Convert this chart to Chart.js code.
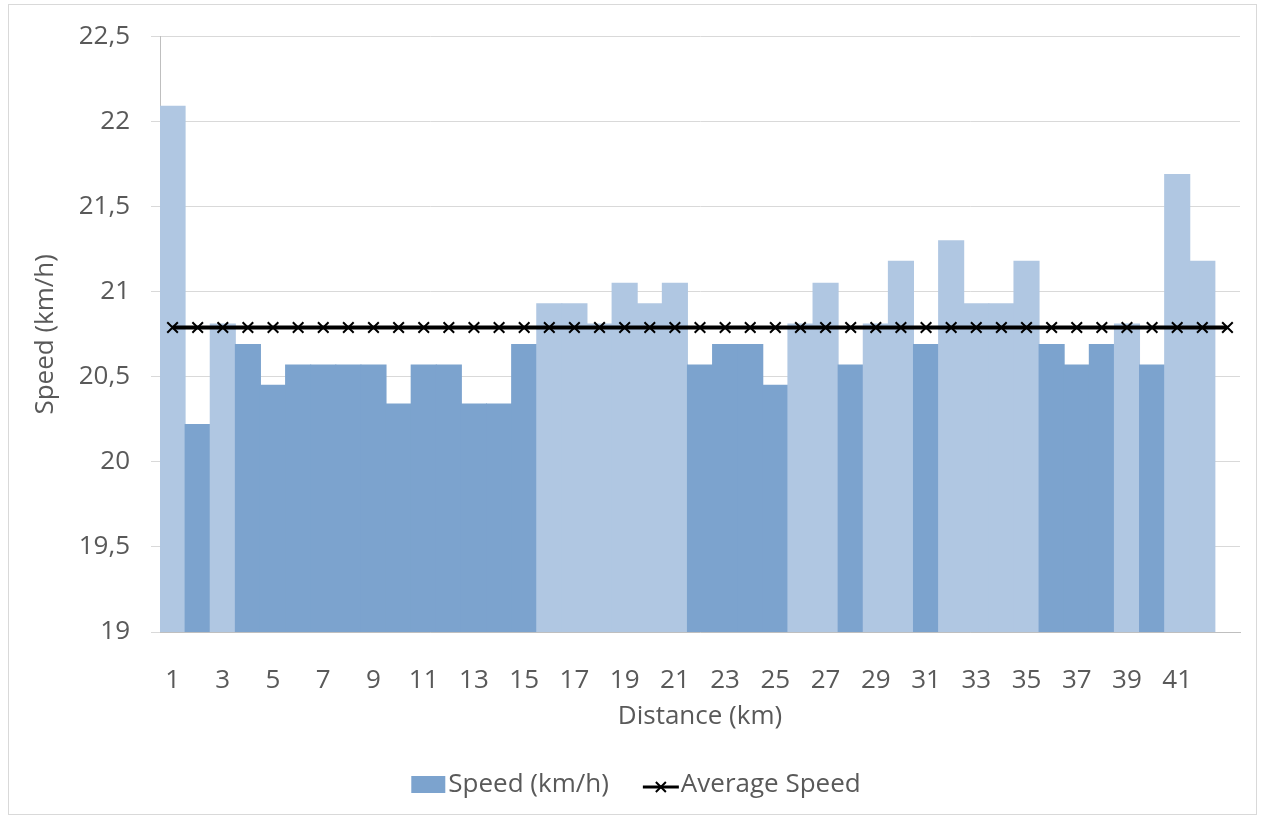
<!DOCTYPE html>
<html>
<head>
<meta charset="utf-8">
<script src="https://cdn.jsdelivr.net/npm/chart.js@4.4.1/dist/chart.umd.min.js"></script>
<style>
  body { margin: 0; background: #fff; }
  canvas { display: block; }
</style>
</head>
<body>
<canvas id="speedChart" width="1261" height="819"></canvas>
<script>
// km markers (the 43rd slot is the final partial km, no label shown)
const distanceLabels = ['1', '2', '3', '4', '5', '6', '7', '8', '9', '10',
  '11', '12', '13', '14', '15', '16', '17', '18', '19', '20',
  '21', '22', '23', '24', '25', '26', '27', '28', '29', '30',
  '31', '32', '33', '34', '35', '36', '37', '38', '39', '40',
  '41', '42', ''];

// speed per km (km/h)
const speedValues = [22.09, 20.22, 20.81, 20.69, 20.45, 20.57, 20.57, 20.57, 20.57, 20.34,
  20.57, 20.57, 20.34, 20.34, 20.69, 20.93, 20.93, 20.81, 21.05, 20.93,
  21.05, 20.57, 20.69, 20.69, 20.45, 20.81, 21.05, 20.57, 20.81, 21.18,
  20.69, 21.30, 20.93, 20.93, 21.18, 20.69, 20.57, 20.69, 20.81, 20.57,
  21.69, 21.18, null];

const averageSpeed = 20.79;
const averageValues = [20.79, 20.79, 20.79, 20.79, 20.79, 20.79, 20.79, 20.79, 20.79, 20.79,
  20.79, 20.79, 20.79, 20.79, 20.79, 20.79, 20.79, 20.79, 20.79, 20.79,
  20.79, 20.79, 20.79, 20.79, 20.79, 20.79, 20.79, 20.79, 20.79, 20.79,
  20.79, 20.79, 20.79, 20.79, 20.79, 20.79, 20.79, 20.79, 20.79, 20.79,
  20.79, 20.79, 20.79];

const yMin = 19;
const yMax = 22.5;
const yStep = 0.5;

const FONT = "'Open Sans', sans-serif";
const TEXT = '#595959';
const BELOW = 'rgb(124, 163, 206)';
const ABOVE = 'rgb(176, 199, 226)';

const barColors = speedValues.map((v) => (v !== null && v > averageSpeed ? ABOVE : BELOW));

// legend + outer frame, drawn by hand to get the line-with-cross swatch
const frameLegend = {
  id: 'frameLegend',
  afterDraw(chart) {
    const ctx = chart.ctx;
    ctx.save();
    ctx.strokeStyle = '#d9d9d9';
    ctx.lineWidth = 1;
    ctx.strokeRect(8.5, 4.5, 1248, 810);

    ctx.font = '26px ' + FONT;
    ctx.textBaseline = 'middle';
    const t1 = 'Speed (km/h)';
    const t2 = 'Average Speed';
    const w1 = ctx.measureText(t1).width;
    const w2 = ctx.measureText(t2).width;
    const total = 34 + 3 + w1 + 34 + 36 + 2 + w2;
    let x = 636 - total / 2;
    const y = 785;

    ctx.fillStyle = BELOW;
    ctx.fillRect(x, y - 9, 34, 17);
    x += 37;
    ctx.fillStyle = TEXT;
    ctx.fillText(t1, x, y);
    x += w1 + 34;

    ctx.strokeStyle = '#000';
    ctx.lineWidth = 3;
    ctx.beginPath();
    ctx.moveTo(x, y + 2);
    ctx.lineTo(x + 36, y + 2);
    ctx.stroke();
    ctx.lineWidth = 2;
    ctx.beginPath();
    ctx.moveTo(x + 13, y - 3);
    ctx.lineTo(x + 23, y + 7);
    ctx.moveTo(x + 23, y - 3);
    ctx.lineTo(x + 13, y + 7);
    ctx.stroke();
    x += 38;
    ctx.fillText(t2, x, y);
    ctx.restore();
  }
};

const ctx = document.getElementById('speedChart').getContext('2d');

const speedChart = new Chart(ctx, {
  data: {
    labels: distanceLabels,
    datasets: [
      {
        type: 'line',
        label: 'Average Speed',
        data: averageValues,
        borderColor: '#000',
        borderWidth: 4,
        pointStyle: 'crossRot',
        pointRadius: 7.5,
        pointBorderWidth: 2,
        pointBorderColor: '#000',
        pointBackgroundColor: '#000',
        order: 1,
      },
      {
        type: 'bar',
        label: 'Speed (km/h)',
        data: speedValues,
        backgroundColor: barColors,
        borderWidth: 0,
        inflateAmount: 0.5,
        categoryPercentage: 1,
        barPercentage: 1,
        order: 2,
      },
    ],
  },
  options: {
    responsive: false,
    animation: false,
    layout: { padding: { left: 10, right: 21, top: 33, bottom: 70 } },
    plugins: {
      legend: { display: false },
      tooltip: { enabled: false },
    },
    scales: {
      x: {
        grid: { display: false },
        border: { display: true, color: '#bfbfbf', width: 1 },
        ticks: {
          autoSkip: false,
          maxRotation: 0,
          padding: 25,
          color: TEXT,
          font: { family: FONT, size: 26 },
          callback: (v, i) => (i % 2 === 0 ? distanceLabels[i] : ''),
        },
        title: {
          display: true,
          text: 'Distance (km)',
          color: TEXT,
          font: { family: FONT, size: 26 },
          padding: { top: 0, bottom: 17 },
        },
        afterFit: (scale) => { scale.height = 117; },
      },
      y: {
        min: yMin,
        max: yMax,
        grid: { color: '#d9d9d9', lineWidth: 1, tickLength: 9 },
        border: { color: '#bfbfbf', width: 1 },
        ticks: {
          stepSize: yStep,
          padding: 21,
          color: TEXT,
          font: { family: FONT, size: 26 },
          callback: (v) => String(v).replace('.', ','),
        },
        title: {
          display: true,
          text: 'Speed (km/h)',
          color: TEXT,
          font: { family: FONT, size: 26 },
          padding: { top: 20, bottom: 0 },
        },
        afterFit: (scale) => { scale.width = 150; },
      },
    },
  },
  plugins: [frameLegend],
});
</script>
</body>
</html>
